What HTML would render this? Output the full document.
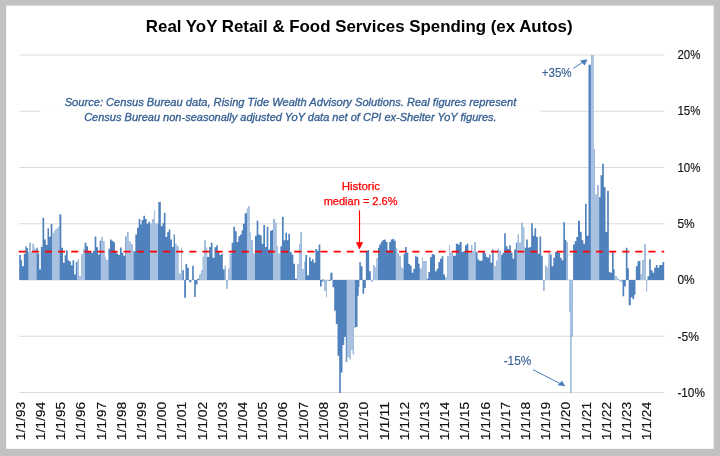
<!DOCTYPE html>
<html lang="en"><head><meta charset="utf-8"><title>Real YoY Retail &amp; Food Services Spending (ex Autos)</title>
<style>html,body{margin:0;padding:0;background:#c1c1c1;}svg{display:block;}text{font-family:"Liberation Sans",sans-serif;}</style></head><body>
<svg width="720" height="456" viewBox="0 0 720 456">
<rect x="0" y="0" width="720" height="456" fill="#c1c1c1"/>
<rect x="6.2" y="5.6" width="707.5" height="443.2" fill="#ffffff"/>
<g stroke="#dbdbdb" stroke-width="1" fill="none">
<line x1="19.2" y1="55.00" x2="664.2" y2="55.00"/>
<line x1="19.2" y1="111.25" x2="664.2" y2="111.25"/>
<line x1="19.2" y1="167.50" x2="664.2" y2="167.50"/>
<line x1="19.2" y1="223.75" x2="664.2" y2="223.75"/>
<line x1="19.2" y1="280.00" x2="664.2" y2="280.00"/>
<line x1="19.2" y1="336.25" x2="664.2" y2="336.25"/>
<line x1="19.2" y1="392.50" x2="664.2" y2="392.50"/>
</g>
<rect x="40.2" y="92" width="500.6" height="34" fill="#ffffff" fill-opacity="0.9"/>
<defs><g id="bars">
<path d="M19.20,280.00L19.20,255.00L20.83,255.00L20.83,260.33L22.00,260.33L22.00,266.17L23.83,266.17L23.83,253.67L25.33,253.67L25.33,246.17L26.67,246.17L26.67,248.33L28.00,248.33L28.00,252.00L29.00,252.00L29.00,252.00L29.30,252.00L29.30,242.83L30.53,242.83L30.53,252.00L30.83,252.00L30.83,252.00L32.33,252.00L32.33,252.00L32.63,252.00L32.63,243.67L33.53,243.67L33.53,247.83L33.83,247.83L33.83,247.83L35.03,247.83L35.03,249.00L35.33,249.00L35.33,249.00L36.33,249.00L36.33,247.83L37.83,247.83L37.83,253.67L39.17,253.67L39.17,269.50L40.83,269.50L40.83,247.00L42.50,247.00L42.50,217.83L44.17,217.83L44.17,239.50L45.83,239.50L45.83,245.00L47.50,245.00L47.50,228.17L49.00,228.17L49.00,236.67L50.67,236.67L50.67,224.00L52.33,224.00L52.33,233.33L53.67,233.33L53.67,233.33L53.97,233.33L53.97,231.17L55.33,231.17L55.33,231.17L55.63,231.17L55.63,229.17L57.50,229.17L57.50,229.17L57.80,229.17L57.80,227.33L59.17,227.33L59.17,214.50L61.33,214.50L61.33,247.83L63.00,247.83L63.00,262.83L64.67,262.83L64.67,255.33L66.00,255.33L66.00,250.33L67.67,250.33L67.67,260.33L69.00,260.33L69.00,261.17L70.83,261.17L70.83,265.33L72.50,265.33L72.50,260.33L74.17,260.33L74.17,274.50L75.83,274.50L75.83,262.00L77.50,262.00L77.50,262.00L77.80,262.00L77.80,259.50L78.87,259.50L78.87,276.17L79.17,276.17L79.17,276.17L81.17,276.17L81.17,276.17L81.47,276.17L81.47,254.50L82.83,254.50L82.83,254.50L83.13,254.50L83.13,249.50L84.67,249.50L84.67,242.83L86.33,242.83L86.33,246.17L88.00,246.17L88.00,252.00L91.33,252.00L91.33,252.83L93.00,252.83L93.00,250.67L94.67,250.67L94.67,236.50L96.33,236.50L96.33,247.33L98.00,247.33L98.00,254.50L99.67,254.50L99.67,240.67L101.33,240.67L101.33,240.67L101.63,240.67L101.63,237.33L102.70,237.33L102.70,241.17L103.00,241.17L103.00,241.17L104.37,241.17L104.37,257.00L104.67,257.00L104.67,257.00L106.03,257.00L106.03,260.33L106.33,260.33L106.33,260.33L108.33,260.33L108.33,248.67L110.00,248.67L110.00,239.50L111.67,239.50L111.67,240.67L113.33,240.67L113.33,242.33L115.00,242.33L115.00,252.00L116.67,252.00L116.67,253.67L118.33,253.67L118.33,255.00L120.00,255.00L120.00,247.50L121.67,247.50L121.67,252.83L123.33,252.83L123.33,255.67L125.00,255.67L125.00,255.67L125.30,255.67L125.30,236.50L127.00,236.50L127.00,236.50L127.30,236.50L127.30,232.33L128.37,232.33L128.37,241.67L128.67,241.67L128.67,241.67L130.00,241.67L130.00,241.67L131.03,241.67L131.03,244.00L131.33,244.00L131.33,244.00L132.70,244.00L132.70,251.17L133.00,251.17L133.00,251.17L135.33,251.17L135.33,234.50L137.00,234.50L137.00,227.83L138.67,227.83L138.67,219.00L140.33,219.00L140.33,224.50L141.67,224.50L141.67,220.00L143.33,220.00L143.33,215.67L145.00,215.67L145.00,219.00L146.67,219.00L146.67,223.67L148.33,223.67L148.33,221.67L150.00,221.67L150.00,223.67L152.00,223.67L152.00,223.67L152.30,223.67L152.30,219.00L153.67,219.00L153.67,219.00L153.97,219.00L153.97,210.00L155.03,210.00L155.03,223.67L155.33,223.67L155.33,223.67L158.33,223.67L158.33,202.00L160.83,202.00L160.83,226.17L162.50,226.17L162.50,223.33L163.83,223.33L163.83,212.83L165.50,212.83L165.50,237.00L167.17,237.00L167.17,232.33L168.67,232.33L168.67,229.50L170.33,229.50L170.33,239.50L172.00,239.50L172.00,247.00L173.67,247.00L173.67,234.50L175.00,234.50L175.00,243.67L176.37,243.67L176.37,246.17L176.67,246.17L176.67,246.17L178.37,246.17L178.37,273.67L178.67,273.67L178.67,273.67L180.83,273.67L180.83,273.67L181.13,273.67L181.13,247.83L181.87,247.83L181.87,270.33L182.17,270.33L182.17,270.33L183.83,270.33L183.83,280.00ZM185.50,280.00L185.50,264.00L187.17,264.00L187.17,267.83L188.83,267.83L188.83,280.00ZM192.17,280.00L192.17,265.67L193.83,265.67L193.83,280.00ZM197.17,280.00L197.17,278.67L199.17,278.67L199.17,278.67L199.47,278.67L199.47,274.50L200.83,274.50L200.83,274.50L201.13,274.50L201.13,270.33L202.50,270.33L202.50,270.33L202.80,270.33L202.80,256.67L204.17,256.67L204.17,256.67L204.47,256.67L204.47,240.33L205.53,240.33L205.53,247.83L205.83,247.83L205.83,247.83L207.20,247.83L207.20,257.00L207.50,257.00L207.50,257.00L209.17,257.00L209.17,247.00L210.83,247.00L210.83,242.83L212.50,242.83L212.50,257.83L214.50,257.83L214.50,247.33L216.17,247.33L216.17,245.33L217.83,245.33L217.83,251.17L219.50,251.17L219.50,255.00L221.17,255.00L221.17,253.67L222.83,253.67L222.83,269.50L224.50,269.50L224.50,269.50L224.80,269.50L224.80,265.67L225.87,265.67L225.87,280.00L226.17,280.00L226.17,280.00ZM227.83,280.00L227.83,280.00L228.13,280.00L228.13,268.67L229.50,268.67L229.50,268.67L229.80,268.67L229.80,253.67L231.67,253.67L231.67,242.83L233.33,242.83L233.33,226.67L235.00,226.67L235.00,231.17L236.67,231.17L236.67,242.00L238.33,242.00L238.33,236.17L240.00,236.17L240.00,234.50L241.67,234.50L241.67,230.33L243.00,230.33L243.00,223.67L244.67,223.67L244.67,213.33L246.50,213.33L246.50,213.33L246.80,213.33L246.80,208.67L248.17,208.67L248.17,208.67L248.47,208.67L248.47,206.17L249.37,206.17L249.37,232.83L249.67,232.83L249.67,232.83L251.03,232.83L251.03,240.33L251.33,240.33L251.33,240.33L252.70,240.33L252.70,253.67L253.00,253.67L253.00,253.67L255.00,253.67L255.00,235.67L256.67,235.67L256.67,220.67L258.33,220.67L258.33,234.50L260.00,234.50L260.00,235.33L261.67,235.33L261.67,243.67L263.33,243.67L263.33,225.00L265.00,225.00L265.00,247.00L266.67,247.00L266.67,226.67L268.33,226.67L268.33,249.50L270.00,249.50L270.00,230.67L271.67,230.67L271.67,230.00L273.00,230.00L273.00,230.00L273.30,230.00L273.30,219.00L274.70,219.00L274.70,222.83L275.00,222.83L275.00,222.83L276.37,222.83L276.37,246.17L276.67,246.17L276.67,246.17L278.03,246.17L278.03,253.67L278.33,253.67L278.33,253.67L280.33,253.67L280.33,246.17L282.00,246.17L282.00,216.67L283.67,216.67L283.67,240.33L285.33,240.33L285.33,232.83L287.00,232.83L287.00,240.33L288.33,240.33L288.33,233.67L290.00,233.67L290.00,252.00L291.67,252.00L291.67,254.50L293.33,254.50L293.33,263.67L295.00,263.67L295.00,278.67L297.00,278.67L297.00,278.67L297.30,278.67L297.30,264.00L298.67,264.00L298.67,264.00L298.97,264.00L298.97,244.50L300.33,244.50L300.33,244.50L300.63,244.50L300.63,232.33L301.70,232.33L301.70,269.50L302.00,269.50L302.00,269.50L303.67,269.50L303.67,269.50L303.97,269.50L303.97,261.67L305.33,261.67L305.33,255.00L307.00,255.00L307.00,275.33L309.00,275.33L309.00,257.33L310.67,257.33L310.67,261.17L312.00,261.17L312.00,259.17L313.67,259.17L313.67,262.83L315.33,262.83L315.33,249.00L317.00,249.00L317.00,250.67L318.67,250.67L318.67,244.50L320.33,244.50L320.33,280.00ZM322.00,280.00L322.00,280.00L322.30,280.00L322.30,279.17L323.87,279.17L323.87,280.00L324.17,280.00L324.17,280.00ZM330.33,280.00L330.33,272.83L332.50,272.83L332.50,280.00ZM359.33,280.00L359.33,262.00L360.83,262.00L360.83,266.17L362.50,266.17L362.50,280.00ZM365.83,280.00L365.83,250.67L367.50,250.67L367.50,250.00L369.17,250.00L369.17,271.17L370.83,271.17L370.83,280.00ZM373.00,280.00L373.00,280.00L373.30,280.00L373.30,265.00L374.37,265.00L374.37,267.83L374.67,267.83L374.67,267.83L376.33,267.83L376.33,267.83L376.63,267.83L376.63,258.33L378.00,258.33L378.00,247.83L379.17,247.83L379.17,244.50L380.83,244.50L380.83,241.67L382.50,241.67L382.50,240.00L384.17,240.00L384.17,239.50L385.83,239.50L385.83,242.00L387.50,242.00L387.50,250.33L389.17,250.33L389.17,242.00L390.83,242.00L390.83,239.50L392.50,239.50L392.50,238.67L394.17,238.67L394.17,240.67L395.83,240.67L395.83,248.67L397.20,248.67L397.20,253.67L397.50,253.67L397.50,253.67L398.87,253.67L398.87,256.17L399.17,256.17L399.17,256.17L400.53,256.17L400.53,267.83L400.83,267.83L400.83,267.83L402.20,267.83L402.20,268.67L402.50,268.67L402.50,268.67L403.67,268.67L403.67,253.67L405.00,253.67L405.00,247.00L406.67,247.00L406.67,252.83L408.33,252.83L408.33,264.00L410.00,264.00L410.00,265.67L411.67,265.67L411.67,272.83L413.33,272.83L413.33,268.67L415.00,268.67L415.00,256.17L416.67,256.17L416.67,257.00L418.33,257.00L418.33,263.67L419.67,263.67L419.67,268.67L421.67,268.67L421.67,268.67L421.97,268.67L421.97,257.00L423.03,257.00L423.03,261.17L423.33,261.17L423.33,261.17L425.00,261.17L425.00,261.17L426.37,261.17L426.37,278.67L426.67,278.67L426.67,278.67L428.33,278.67L428.33,272.00L430.00,272.00L430.00,257.33L431.67,257.33L431.67,254.00L433.33,254.00L433.33,254.83L435.00,254.83L435.00,271.17L436.67,271.17L436.67,268.67L438.33,268.67L438.33,262.00L440.00,262.00L440.00,258.67L441.67,258.67L441.67,256.17L443.33,256.17L443.33,274.50L445.00,274.50L445.00,277.00L447.00,277.00L447.00,277.00L447.30,277.00L447.30,256.17L448.67,256.17L448.67,256.17L448.97,256.17L448.97,245.33L450.03,245.33L450.03,252.83L450.33,252.83L450.33,252.83L452.70,252.83L452.70,255.67L453.00,255.67L453.00,255.67L455.83,255.67L455.83,243.67L458.00,243.67L458.00,244.50L459.67,244.50L459.67,241.67L460.00,241.67L460.00,242.00L461.67,242.00L461.67,252.00L463.33,252.00L463.33,251.17L465.00,251.17L465.00,245.33L466.67,245.33L466.67,243.67L468.33,243.67L468.33,252.83L470.83,252.83L470.83,252.83L471.13,252.83L471.13,245.33L472.20,245.33L472.20,251.17L472.50,251.17L472.50,251.17L474.17,251.17L474.17,251.17L474.47,251.17L474.47,242.00L475.53,242.00L475.53,252.00L475.83,252.00L475.83,252.00L477.50,252.00L477.50,259.50L479.17,259.50L479.17,260.67L482.50,260.67L482.50,252.00L484.17,252.00L484.17,252.83L485.83,252.83L485.83,256.67L487.50,256.67L487.50,257.83L489.17,257.83L489.17,254.50L490.50,254.50L490.50,262.83L492.17,262.83L492.17,249.50L493.83,249.50L493.83,266.17L495.83,266.17L495.83,266.17L496.13,266.17L496.13,260.67L497.50,260.67L497.50,260.67L497.80,260.67L497.80,248.67L498.87,248.67L498.87,250.67L499.17,250.67L499.17,250.67L500.87,250.67L500.87,255.00L501.17,255.00L501.17,255.00L502.50,255.00L502.50,252.83L504.17,252.83L504.17,233.17L505.83,233.17L505.83,246.17L507.50,246.17L507.50,249.00L509.17,249.00L509.17,245.33L510.83,245.33L510.83,252.83L512.50,252.83L512.50,258.67L514.17,258.67L514.17,249.50L515.83,249.50L515.83,242.83L517.50,242.83L517.50,242.83L517.80,242.83L517.80,234.50L518.87,234.50L518.87,242.83L519.17,242.83L519.17,242.83L521.17,242.83L521.17,242.83L521.47,242.83L521.47,222.83L522.53,222.83L522.53,227.33L522.83,227.33L522.83,227.33L524.20,227.33L524.20,247.83L524.50,247.83L524.50,247.83L526.17,247.83L526.17,239.50L527.83,239.50L527.83,247.83L529.50,247.83L529.50,247.00L531.17,247.00L531.17,223.33L532.83,223.33L532.83,235.67L534.50,235.67L534.50,228.33L536.17,228.33L536.17,237.00L537.83,237.00L537.83,253.67L539.50,253.67L539.50,236.50L541.17,236.50L541.17,255.67L542.83,255.67L542.83,280.00ZM545.00,280.00L545.00,280.00L545.30,280.00L545.30,265.67L546.37,265.67L546.37,267.83L546.67,267.83L546.67,267.83L548.33,267.83L548.33,267.83L548.63,267.83L548.63,252.83L549.70,252.83L549.70,254.50L550.00,254.50L550.00,254.50L551.67,254.50L551.67,266.17L553.33,266.17L553.33,257.83L555.00,257.83L555.00,252.00L556.67,252.00L556.67,251.17L558.33,251.17L558.33,252.83L560.00,252.83L560.00,257.83L561.67,257.83L561.67,260.33L563.33,260.33L563.33,222.33L565.00,222.33L565.00,240.00L566.33,240.00L566.33,242.00L567.70,242.00L567.70,280.00L568.00,280.00L568.00,280.00ZM573.00,280.00L573.00,244.50L574.67,244.50L574.67,241.17L576.33,241.17L576.33,237.00L578.00,237.00L578.00,220.67L580.00,220.67L580.00,231.67L581.67,231.67L581.67,240.33L583.33,240.33L583.33,243.67L585.00,243.67L585.00,203.67L586.67,203.67L586.67,235.67L588.50,235.67L588.50,64.67L590.83,64.67L590.83,64.67L591.13,64.67L591.13,55.00L593.37,55.00L593.37,149.17L593.67,149.17L593.67,149.17L594.70,149.17L594.70,194.67L595.00,194.67L595.00,194.67L597.00,194.67L597.00,194.67L597.30,194.67L597.30,185.00L598.37,185.00L598.37,197.17L598.67,197.17L598.67,197.17L600.50,197.17L600.50,175.33L602.17,175.33L602.17,163.67L603.83,163.67L603.83,187.00L605.50,187.00L605.50,232.00L607.17,232.00L607.17,190.83L608.83,190.83L608.83,272.00L610.33,272.00L610.33,272.83L612.00,272.83L612.00,252.00L613.67,252.00L613.67,269.50L615.03,269.50L615.03,276.17L615.33,276.17L615.33,276.17L616.70,276.17L616.70,278.67L617.00,278.67L617.00,278.67L618.87,278.67L618.87,280.00L619.17,280.00L619.17,280.00ZM625.83,280.00L625.83,247.83L627.50,247.83L627.50,268.33L628.83,268.33L628.83,280.00ZM635.83,280.00L635.83,266.17L637.50,266.17L637.50,261.17L639.17,261.17L639.17,260.67L640.33,260.67L640.33,274.50L642.00,274.50L642.00,274.50L642.30,274.50L642.30,260.33L643.67,260.33L643.67,260.33L643.97,260.33L643.97,244.50L645.53,244.50L645.53,280.00L645.83,280.00L645.83,280.00ZM647.50,280.00L647.50,276.17L649.17,276.17L649.17,259.17L650.83,259.17L650.83,270.33L652.50,270.33L652.50,272.83L654.17,272.83L654.17,267.83L655.83,267.83L655.83,265.00L657.50,265.00L657.50,267.83L659.17,267.83L659.17,265.00L660.83,265.00L660.83,265.00L662.50,265.00L662.50,262.00L664.20,262.00L664.20,280.00Z"/>
<path d="M184.20,280.00L184.20,297.80L186.00,297.80L186.00,280.00ZM189.20,280.00L189.20,282.30L191.30,282.30L191.30,280.00ZM194.20,280.00L194.20,297.00L195.80,297.00L195.80,284.50L197.50,284.50L197.50,280.00ZM226.20,280.00L226.20,280.00L226.50,280.00L226.50,288.70L227.50,288.70L227.50,280.00L227.80,280.00L227.80,280.00ZM320.00,280.00L320.00,286.50L321.70,286.50L321.70,281.50L324.20,281.50L324.20,281.50L324.50,281.50L324.50,290.70L325.80,290.70L325.80,290.70L326.10,290.70L326.10,297.30L326.90,297.30L326.90,281.00L327.20,281.00L327.20,281.00L330.50,281.00L330.50,280.00L330.80,280.00L330.80,280.00ZM332.50,280.00L332.50,287.30L334.20,287.30L334.20,310.70L335.80,310.70L335.80,324.00L337.50,324.00L337.50,355.80L339.20,355.80L339.20,393.00L340.80,393.00L340.80,372.50L342.50,372.50L342.50,345.00L344.20,345.00L344.20,337.00L345.80,337.00L345.80,362.00L347.20,362.00L347.20,356.70L349.20,356.70L349.20,356.70L349.50,356.70L349.50,359.20L350.50,359.20L350.50,350.00L350.80,350.00L350.80,350.00L352.50,350.00L352.50,350.00L352.80,350.00L352.80,354.20L353.90,354.20L353.90,327.50L354.20,327.50L354.20,327.50L355.50,327.50L355.50,327.00L357.50,327.00L357.50,295.70L358.70,295.70L358.70,287.00L359.40,287.00L359.40,280.00ZM362.50,280.00L362.50,293.70L364.20,293.70L364.20,288.00L365.80,288.00L365.80,280.00ZM370.80,280.00L370.80,280.00L371.10,280.00L371.10,281.50L372.70,281.50L372.70,280.00L373.00,280.00L373.00,280.00ZM543.00,280.00L543.00,280.00L543.30,280.00L543.30,290.70L544.40,290.70L544.40,280.00L544.70,280.00L544.70,280.00ZM568.70,280.00L568.70,280.00L569.00,280.00L569.00,311.50L570.20,311.50L570.20,311.50L570.50,311.50L570.50,393.00L571.30,393.00L571.30,336.50L571.60,336.50L571.60,336.50L572.70,336.50L572.70,280.00L573.00,280.00L573.00,280.00ZM619.50,280.00L619.50,280.00L619.80,280.00L619.80,281.50L622.50,281.50L622.50,296.20L624.20,296.20L624.20,286.50L625.80,286.50L625.80,280.00ZM628.70,280.00L628.70,305.30L630.80,305.30L630.80,297.30L632.50,297.30L632.50,299.30L634.20,299.30L634.20,294.80L635.50,294.80L635.50,280.00ZM645.70,280.00L645.70,280.00L646.00,280.00L646.00,291.20L647.10,291.20L647.10,280.00L647.40,280.00L647.40,280.00Z"/>
</g><clipPath id="stripes">
<rect x="28.30" y="40" width="8.40" height="370"/>
<rect x="52.00" y="40" width="7.70" height="370"/>
<rect x="77.00" y="40" width="8.00" height="370"/>
<rect x="100.80" y="40" width="7.90" height="370"/>
<rect x="125.80" y="40" width="7.90" height="370"/>
<rect x="150.00" y="40" width="8.00" height="370"/>
<rect x="175.00" y="40" width="7.50" height="370"/>
<rect x="199.20" y="40" width="7.80" height="370"/>
<rect x="224.50" y="40" width="7.20" height="370"/>
<rect x="247.00" y="40" width="8.00" height="370"/>
<rect x="273.00" y="40" width="7.50" height="370"/>
<rect x="297.00" y="40" width="8.30" height="370"/>
<rect x="322.50" y="40" width="6.50" height="370"/>
<rect x="346.70" y="40" width="8.30" height="370"/>
<rect x="370.80" y="40" width="7.20" height="370"/>
<rect x="395.80" y="40" width="7.90" height="370"/>
<rect x="419.70" y="40" width="7.30" height="370"/>
<rect x="445.00" y="40" width="8.00" height="370"/>
<rect x="468.30" y="40" width="7.50" height="370"/>
<rect x="493.30" y="40" width="7.90" height="370"/>
<rect x="516.70" y="40" width="8.30" height="370"/>
<rect x="542.80" y="40" width="7.20" height="370"/>
<rect x="566.20" y="40" width="7.00" height="370"/>
<rect x="590.80" y="40" width="8.40" height="370"/>
<rect x="614.20" y="40" width="8.30" height="370"/>
<rect x="640.30" y="40" width="7.20" height="370"/>
</clipPath></defs>
<use href="#bars" fill="#4f81bd"/>
<g clip-path="url(#stripes)"><use href="#bars" fill="#a9c1e0"/></g>
<line x1="18.7" y1="251.6" x2="664.2" y2="251.6" stroke="#ff0000" stroke-width="1.7" stroke-dasharray="7.1 6.02"/>
<g fill="#ff0000" stroke="#ff0000" stroke-width="0.25" font-size="10.8px" text-anchor="middle">
<text x="360.8" y="190" textLength="38.3" lengthAdjust="spacingAndGlyphs">Historic</text>
<text x="360.6" y="204.5" textLength="73.8" lengthAdjust="spacingAndGlyphs">median = 2.6%</text>
</g>
<line x1="359.5" y1="210.3" x2="359.5" y2="243" stroke="#ff0000" stroke-width="1.15"/>
<polygon points="359.5,249.5 355.85,242.2 363.15,242.2" fill="#ff0000"/>
<text x="359.2" y="32.2" font-size="17px" font-weight="bold" fill="#000000" text-anchor="middle" textLength="426.7" lengthAdjust="spacingAndGlyphs">Real YoY Retail &amp; Food Services Spending (ex Autos)</text>
<g fill="#376092" stroke="#376092" stroke-width="0.3" font-size="10.2px" font-style="italic" text-anchor="middle">
<text x="290.5" y="105.8" textLength="451.6" lengthAdjust="spacingAndGlyphs">Source: Census Bureau data, Rising Tide Wealth Advisory Solutions. Real figures represent</text>
<text x="290.4" y="120.5" textLength="412.5" lengthAdjust="spacingAndGlyphs">Census Bureau non-seasonally adjusted YoY data net of CPI ex-Shelter YoY figures.</text>
</g>
<g fill="#376092" stroke="#376092" stroke-width="0.15" font-size="12.8px">
<text x="541.7" y="76.6" textLength="30" lengthAdjust="spacingAndGlyphs">+35%</text>
<text x="503.7" y="365" textLength="27.5" lengthAdjust="spacingAndGlyphs">-15%</text>
</g>
<g stroke="#4a7ebb" stroke-width="1" fill="#4a7ebb">
<line x1="573.3" y1="68.3" x2="583" y2="62.2"/>
<polygon points="587.5,59.3 580,60.5 584.7,65.5" stroke="none"/>
<line x1="533" y1="369.7" x2="560" y2="383.5"/>
<polygon points="565.3,386.2 557.5,385.3 562,380.8" stroke="none"/>
</g>
<g fill="#111111" stroke="#111111" stroke-width="0.15" font-size="13px">
<text x="677.4" y="59.0" textLength="23" lengthAdjust="spacingAndGlyphs">20%</text>
<text x="677.4" y="115.3" textLength="23" lengthAdjust="spacingAndGlyphs">15%</text>
<text x="677.4" y="171.7" textLength="23" lengthAdjust="spacingAndGlyphs">10%</text>
<text x="677.4" y="228.0" textLength="17.2" lengthAdjust="spacingAndGlyphs">5%</text>
<text x="677.4" y="284.3" textLength="17.2" lengthAdjust="spacingAndGlyphs">0%</text>
<text x="677.4" y="340.7" textLength="21.5" lengthAdjust="spacingAndGlyphs">-5%</text>
<text x="677.4" y="397.0" textLength="27.5" lengthAdjust="spacingAndGlyphs">-10%</text>
</g>
<g fill="#111111" stroke="#111111" stroke-width="0.15" font-size="13px">
<text transform="translate(24.74,440.3) rotate(-90)" textLength="38.5" lengthAdjust="spacingAndGlyphs">1/1/93</text>
<text transform="translate(44.95,440.3) rotate(-90)" textLength="38.5" lengthAdjust="spacingAndGlyphs">1/1/94</text>
<text transform="translate(65.16,440.3) rotate(-90)" textLength="38.5" lengthAdjust="spacingAndGlyphs">1/1/95</text>
<text transform="translate(85.37,440.3) rotate(-90)" textLength="38.5" lengthAdjust="spacingAndGlyphs">1/1/96</text>
<text transform="translate(105.58,440.3) rotate(-90)" textLength="38.5" lengthAdjust="spacingAndGlyphs">1/1/97</text>
<text transform="translate(125.79,440.3) rotate(-90)" textLength="38.5" lengthAdjust="spacingAndGlyphs">1/1/98</text>
<text transform="translate(146.00,440.3) rotate(-90)" textLength="38.5" lengthAdjust="spacingAndGlyphs">1/1/99</text>
<text transform="translate(166.20,440.3) rotate(-90)" textLength="38.5" lengthAdjust="spacingAndGlyphs">1/1/00</text>
<text transform="translate(186.41,440.3) rotate(-90)" textLength="38.5" lengthAdjust="spacingAndGlyphs">1/1/01</text>
<text transform="translate(206.62,440.3) rotate(-90)" textLength="38.5" lengthAdjust="spacingAndGlyphs">1/1/02</text>
<text transform="translate(226.83,440.3) rotate(-90)" textLength="38.5" lengthAdjust="spacingAndGlyphs">1/1/03</text>
<text transform="translate(247.04,440.3) rotate(-90)" textLength="38.5" lengthAdjust="spacingAndGlyphs">1/1/04</text>
<text transform="translate(267.25,440.3) rotate(-90)" textLength="38.5" lengthAdjust="spacingAndGlyphs">1/1/05</text>
<text transform="translate(287.46,440.3) rotate(-90)" textLength="38.5" lengthAdjust="spacingAndGlyphs">1/1/06</text>
<text transform="translate(307.67,440.3) rotate(-90)" textLength="38.5" lengthAdjust="spacingAndGlyphs">1/1/07</text>
<text transform="translate(327.88,440.3) rotate(-90)" textLength="38.5" lengthAdjust="spacingAndGlyphs">1/1/08</text>
<text transform="translate(348.08,440.3) rotate(-90)" textLength="38.5" lengthAdjust="spacingAndGlyphs">1/1/09</text>
<text transform="translate(368.29,440.3) rotate(-90)" textLength="38.5" lengthAdjust="spacingAndGlyphs">1/1/10</text>
<text transform="translate(388.50,440.3) rotate(-90)" textLength="38.5" lengthAdjust="spacingAndGlyphs">1/1/11</text>
<text transform="translate(408.71,440.3) rotate(-90)" textLength="38.5" lengthAdjust="spacingAndGlyphs">1/1/12</text>
<text transform="translate(428.92,440.3) rotate(-90)" textLength="38.5" lengthAdjust="spacingAndGlyphs">1/1/13</text>
<text transform="translate(449.13,440.3) rotate(-90)" textLength="38.5" lengthAdjust="spacingAndGlyphs">1/1/14</text>
<text transform="translate(469.34,440.3) rotate(-90)" textLength="38.5" lengthAdjust="spacingAndGlyphs">1/1/15</text>
<text transform="translate(489.55,440.3) rotate(-90)" textLength="38.5" lengthAdjust="spacingAndGlyphs">1/1/16</text>
<text transform="translate(509.76,440.3) rotate(-90)" textLength="38.5" lengthAdjust="spacingAndGlyphs">1/1/17</text>
<text transform="translate(529.96,440.3) rotate(-90)" textLength="38.5" lengthAdjust="spacingAndGlyphs">1/1/18</text>
<text transform="translate(550.17,440.3) rotate(-90)" textLength="38.5" lengthAdjust="spacingAndGlyphs">1/1/19</text>
<text transform="translate(570.38,440.3) rotate(-90)" textLength="38.5" lengthAdjust="spacingAndGlyphs">1/1/20</text>
<text transform="translate(590.59,440.3) rotate(-90)" textLength="38.5" lengthAdjust="spacingAndGlyphs">1/1/21</text>
<text transform="translate(610.80,440.3) rotate(-90)" textLength="38.5" lengthAdjust="spacingAndGlyphs">1/1/22</text>
<text transform="translate(631.01,440.3) rotate(-90)" textLength="38.5" lengthAdjust="spacingAndGlyphs">1/1/23</text>
<text transform="translate(651.22,440.3) rotate(-90)" textLength="38.5" lengthAdjust="spacingAndGlyphs">1/1/24</text>
</g>
</svg></body></html>
